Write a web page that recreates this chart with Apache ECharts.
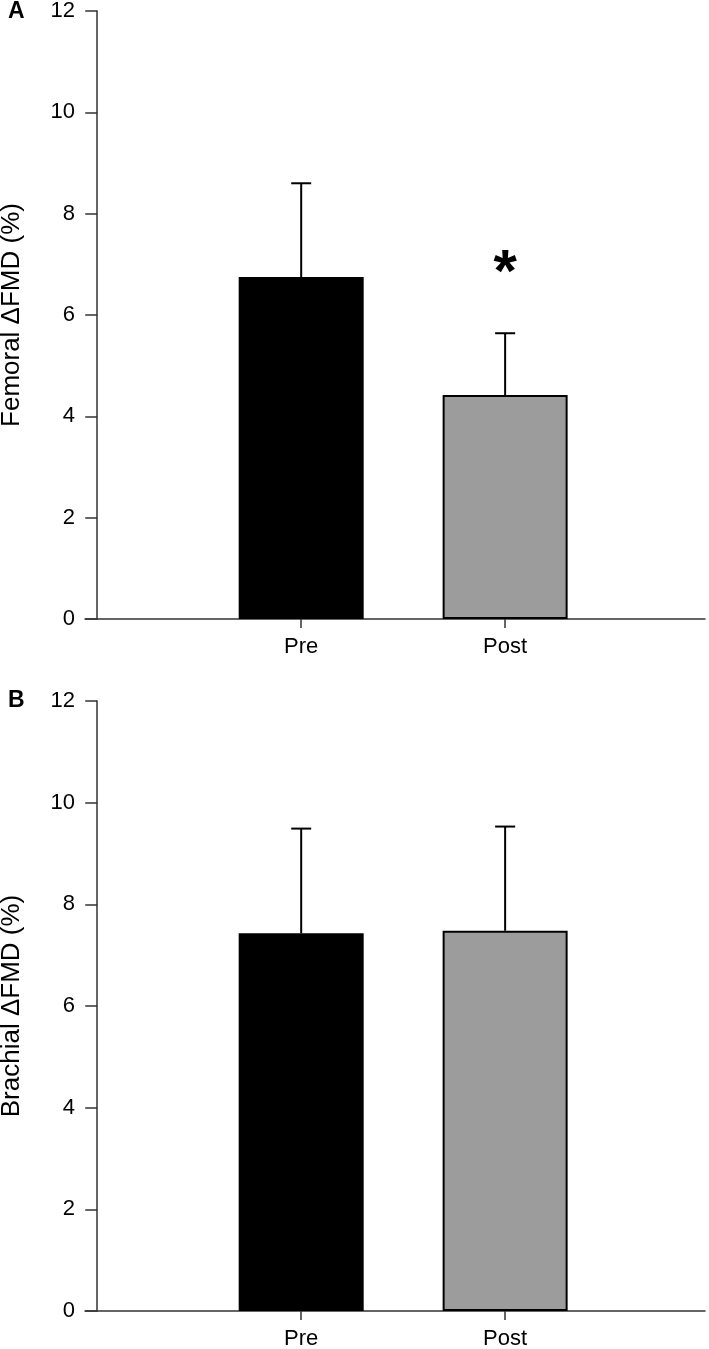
<!DOCTYPE html>
<html>
<head>
<meta charset="utf-8">
<script src="https://cdn.jsdelivr.net/npm/echarts@6/dist/echarts.min.js"></script>
<style>
html,body{margin:0;padding:0;background:#fff;}
#chart{width:709px;height:1349px;}
</style>
</head>
<body>
<div id="chart"></div>
<script>
var categories = ['Pre', 'Post'];
var femoralMean = [6.75, 4.42];
var femoralUpper = [8.60, 5.64];
var brachialMean = [7.43, 7.48];
var brachialUpper = [9.49, 9.53];
var femoralStar = [null, 7.05];
var yTicks = [0, 2, 4, 6, 8, 10, 12];

var FONT = '"Liberation Sans", Arial, sans-serif';
var barColors = ['#000000', '#9c9c9c'];

var chart = echarts.init(document.getElementById('chart'), null, {renderer: 'canvas'});

function xAxisDef(idx) {
  return {
    gridIndex: idx, type: 'value', min: -0.06, max: 2.98,
    axisLine: {show: true, onZero: false, lineStyle: {color: '#333', width: 1.5}},
    axisTick: {show: true, customValues: [1, 2], length: 9, lineStyle: {color: '#333', width: 1.5}},
    axisLabel: {customValues: [1, 2], formatter: function (v) { return categories[Math.round(v) - 1] || ''; },
      fontSize: 22, color: '#000', fontFamily: FONT, margin: 17},
    splitLine: {show: false}
  };
}
function yAxisDef(idx, name) {
  return {
    gridIndex: idx, type: 'value', min: yTicks[0], max: yTicks[yTicks.length - 1], interval: 2,
    name: name, nameLocation: 'middle', nameGap: 60, nameRotate: 90,
    nameTextStyle: {fontSize: 26, color: '#000', fontFamily: FONT},
    axisLine: {show: true, onZero: true, lineStyle: {color: '#333', width: 1.5}},
    axisTick: {show: true, length: 12, lineStyle: {color: '#333', width: 1.5}},
    axisLabel: {fontSize: 22, color: '#000', fontFamily: FONT, margin: 10},
    splitLine: {show: false}
  };
}
function barData(means) {
  return means.map(function (m, i) {
    return {value: [i + 1, m], itemStyle: {color: barColors[i], borderColor: '#000', borderWidth: i === 0 ? 0 : 2}};
  });
}
function errData(means, uppers) {
  return means.map(function (m, i) { return [i + 1, m, uppers[i]]; });
}
function errRender(params, api) {
  var x = api.value(0);
  var base = api.coord([x, api.value(1)]);
  var top = api.coord([x, api.value(2)]);
  var style = {stroke: '#000', lineWidth: 2};
  return {type: 'group', children: [
    {type: 'line', shape: {x1: base[0], y1: base[1], x2: top[0], y2: top[1]}, style: style},
    {type: 'line', shape: {x1: top[0] - 10, y1: top[1], x2: top[0] + 10, y2: top[1]}, style: style}
  ]};
}
function starRender(params, api) {
  var p = api.coord([api.value(0), api.value(1)]);
  return {type: 'text', x: p[0], y: p[1] + 13, style: {text: '*', fontSize: 60, fontWeight: 'bold', fontFamily: FONT,
    fill: '#000', align: 'center', verticalAlign: 'middle'}};
}

var option = {
  backgroundColor: '#fff',
  animation: false,
  title: [
    {text: 'A', left: 8, top: 0, padding: 0, textStyle: {fontSize: 23, fontWeight: 'bold', color: '#000', fontFamily: FONT}},
    {text: 'B', left: 8, top: 689, padding: 0, textStyle: {fontSize: 23, fontWeight: 'bold', color: '#000', fontFamily: FONT}}
  ],
  grid: [
    {left: 85, right: 4, top: 11, height: 608, containLabel: false, outerBoundsMode: 'none'},
    {left: 85, right: 4, top: 701, height: 610, containLabel: false, outerBoundsMode: 'none'}
  ],
  xAxis: [xAxisDef(0), xAxisDef(1)],
  yAxis: [yAxisDef(0, 'Femoral \u0394FMD (%)'), yAxisDef(1, 'Brachial \u0394FMD (%)')],
  series: [
    {type: 'custom', xAxisIndex: 0, yAxisIndex: 0, data: errData(femoralMean, femoralUpper), renderItem: errRender, z: 1},
    {type: 'bar', xAxisIndex: 0, yAxisIndex: 0, barWidth: 125, data: barData(femoralMean), z: 2},
    {type: 'custom', xAxisIndex: 0, yAxisIndex: 0,
      data: femoralStar.map(function (v, i) { return v == null ? null : [i + 1, v]; }).filter(Boolean),
      renderItem: starRender, z: 3},
    {type: 'custom', xAxisIndex: 1, yAxisIndex: 1, data: errData(brachialMean, brachialUpper), renderItem: errRender, z: 1},
    {type: 'bar', xAxisIndex: 1, yAxisIndex: 1, barWidth: 125, data: barData(brachialMean), z: 2}
  ]
};
chart.setOption(option);
</script>
</body>
</html>
